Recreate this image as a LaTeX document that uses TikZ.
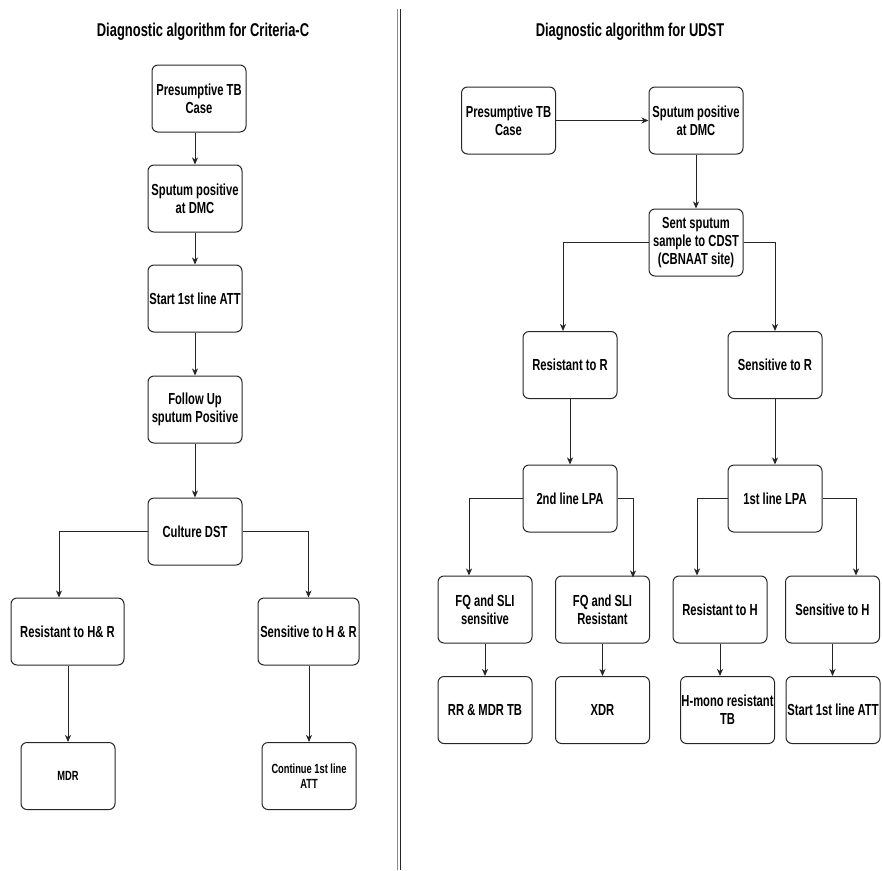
\documentclass[tikz,border=0pt]{standalone}
\usepackage{fontspec}
\setmainfont{Liberation Sans}[FakeStretch=0.7]
\usetikzlibrary{arrows.meta}
\begin{document}
\begin{tikzpicture}[x=1pt,y=-1pt,
  box/.style={draw=black!85,line width=1pt,rounded corners=6pt,minimum width=94pt,minimum height=67pt,inner sep=0pt,align=center,font=\fontsize{16}{17.7}\selectfont\bfseries},
  smallbox/.style={box,font=\fontsize{13.3}{15.5}\selectfont\bfseries},
  ttl/.style={font=\fontsize{18.5}{20}\selectfont\bfseries},
  arr/.style={draw=black!85,line width=1pt,-{Stealth[length=7pt,width=6pt,inset=2pt]}}]
\useasboundingbox (0,0) rectangle (882,870);
% separator
\draw[black!45,line width=1pt] (397.3,9) coordinate (s1) -- (397.3,870) coordinate (s2);
\draw[black!85,line width=1pt] (400.5,9) coordinate (s3) -- (400.5,870) coordinate (s4);
% titles
\node[ttl] (t1) at (203,32) {Diagnostic algorithm for Criteria-C};
\node[ttl] (t2) at (630,32) {Diagnostic algorithm for UDST};
% left flowchart
\node[box] (p1) at (199,98.5) {Presumptive TB\\Case};
\node[box] (p2) at (195,198.5) {Sputum positive\\at DMC};
\node[box] (p3) at (195,298.5) {Start 1st line ATT};
\node[box] (p4) at (195,409.5) {Follow Up\\sputum Positive};
\node[box] (p5) at (195,531.5) {Culture DST};
\node[box,minimum width=113pt] (p6) at (67.5,631.5) {Resistant to H\& R};
\node[box,minimum width=101pt] (p7) at (308.5,631.5) {Sensitive to H \& R};
\node[smallbox] (p8) at (68,776) {MDR};
\node[smallbox] (p9) at (309,776) {Continue 1st line\\ATT};
\draw[arr] (p1.south -| p2.north) -- (p2.north);
\draw[arr] (p2) -- (p3);
\draw[arr] (p3) -- (p4);
\draw[arr] (p4) -- (p5);
\draw[arr] (p5.west) -| ([xshift=-8.5pt]p6.north);
\draw[arr] (p5.east) -| (p7.north);
\draw[arr] (p6.south -| p8.north) -- (p8.north);
\draw[arr] (p7.south -| p9.north) -- (p9.north);
% right flowchart
\node[box] (q1) at (508.5,120.5) {Presumptive TB\\Case};
\node[box] (q2) at (696,120.5) {Sputum positive\\at DMC};
\node[box] (q3) at (696,242.5) {Sent sputum\\sample to CDST\\(CBNAAT site)};
\node[box] (q4) at (570,365) {Resistant to R};
\node[box] (q5) at (775,365) {Sensitive to R};
\node[box] (q6) at (570,498.5) {2nd line LPA};
\node[box] (q7) at (775,498.5) {1st line LPA};
\node[box] (q8) at (485,609.5) {FQ and SLI\\sensitive};
\node[box] (q9) at (602.5,609.5) {FQ and SLI\\Resistant};
\node[box] (q10) at (720,609.5) {Resistant to H};
\node[box] (q11) at (832.5,609.5) {Sensitive to H};
\node[box] (q12) at (485,710) {RR \& MDR TB};
\node[box] (q13) at (602.5,710) {XDR};
\node[box] (q14) at (727.5,710) {H-mono resistant\\TB};
\node[box] (q15) at (833,710) {Start 1st line ATT};
\draw[arr] (q1) -- (q2);
\draw[arr] (q2) -- (q3);
\draw[arr] (q3.west) -| ([xshift=-7pt]q4.north);
\draw[arr] (q3.east) -| (q5.north);
\draw[arr] (q4) -- (q6);
\draw[arr] (q5) -- (q7);
\draw[arr] (q6.west) -| ([xshift=-16pt]q8.north);
\draw[arr] (q6.east) -| ([xshift=30.5pt,yshift=-2pt]q9.north);
\draw[arr] (q7.west) -| ([xshift=-23pt]q10.north);
\draw[arr] (q7.east) -| ([xshift=23.5pt]q11.north);
\draw[arr] (q8) -- (q12);
\draw[arr] (q9) -- (q13);
\draw[arr] (q10.south) -- (q10.south |- q14.north);
\draw[arr] (q11.south) -- (q11.south |- q15.north);
\end{tikzpicture}
\end{document}
